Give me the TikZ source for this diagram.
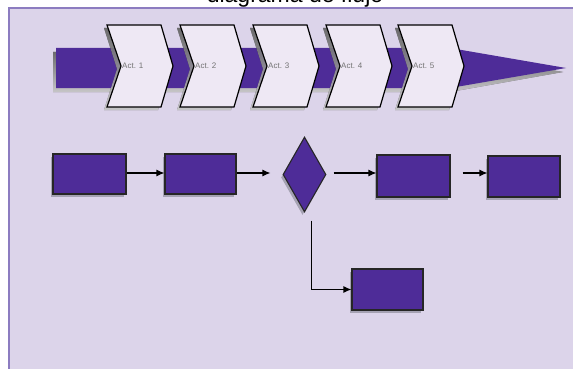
\documentclass[tikz,border=0pt]{standalone}
\usepackage{fontspec}
\setmainfont{Liberation Sans}
\usetikzlibrary{shapes.geometric,arrows.meta,shadows}
\definecolor{panel}{HTML}{DCD4EA}
\definecolor{panelline}{HTML}{8C7CC0}
\definecolor{deep}{HTML}{4E2C98}
\definecolor{chevfill}{HTML}{EEE8F4}
\definecolor{shade}{HTML}{8E8E9C}
\tikzset{
  boxnode/.style={draw=black!85, line width=1.1pt, fill=deep, inner sep=0pt,
    drop shadow={shadow xshift=-2pt, shadow yshift=-3pt, fill=shade, opacity=0.7}},
  decnode/.style={diamond, draw=black!85, line width=1.1pt, fill=deep, inner sep=0pt,
    minimum width=43pt, minimum height=75pt, aspect=0.57,
    drop shadow={shadow xshift=-2pt, shadow yshift=-3pt, fill=shade, opacity=0.7}},
  flow/.style={-{Latex[length=8pt,width=7pt]}, line width=1.2pt, black},
  chevshape/.style={draw=black, line width=1.2pt, fill=chevfill},
  chevlabel/.style={anchor=west, inner sep=0pt, font=\fontsize{8}{9}\selectfont, text=black!55},
}
\newcommand{\chevron}[3]{%
  \fill[shade, opacity=0.7] (#1-3,28) -- (#1+51,28) -- (#1+63,69) -- (#1+51,110) -- (#1-3,110) -- (#1+10,69) -- cycle;
  \path[chevshape] (#1,25) -- (#1+54,25) -- (#1+66,66) -- (#1+54,107) -- (#1,107) -- (#1+14,66) -- cycle;
  \node[chevlabel] (#3) at (#1+15,66) {#2};
}
\begin{document}
\begin{tikzpicture}[x=1pt,y=-1pt]
  \useasboundingbox (0,0) rectangle (573,369);
  \clip (0,0) rectangle (573,369);
  \fill[white] (0,0) rectangle (573,369);
  \node[anchor=base, inner sep=0pt, font=\fontsize{23}{23}\selectfont] (title) at (295,3) {diagrama de flujo};
  \fill[panel] (8,8) rectangle (573,369);
  \draw[panelline, line width=2pt] (9,369) -- (9,8.5) -- (573,8.5);
  % band with arrow tip
  \fill[shade, opacity=0.7] (53,52) -- (450,52) -- (563,72) -- (450,92) -- (53,92) -- cycle;
  \fill[deep] (56,48) -- (450,48) -- (566,68) -- (450,88) -- (56,88) -- cycle;
  % chevrons
  \chevron{107}{Act. 1}{a1}
  \chevron{180}{Act. 2}{a2}
  \chevron{253}{Act. 3}{a3}
  \chevron{326}{Act. 4}{a4}
  \chevron{398}{Act. 5}{a5}
  % flow row
  \node[boxnode, minimum width=73pt, minimum height=40pt] (b1) at (89.5,174) {};
  \node[boxnode, minimum width=71pt, minimum height=40pt] (b2) at (200.5,174) {};
  \node[decnode] (d) at (304.5,174.5) {};
  \node[boxnode, minimum width=73pt, minimum height=42pt] (b3) at (413.5,176) {};
  \node[boxnode, minimum width=72pt, minimum height=41pt] (b4) at (524,176.5) {};
  \node[boxnode, minimum width=71pt, minimum height=41pt] (b5) at (387.5,289.5) {};
  \draw[flow] (b1.east |- 0,173) -- (b2.west |- 0,173);
  \draw[flow, shorten >=12pt] (b2.east |- 0,173) -- (d.west |- 0,173);
  \draw[flow, shorten <=7pt] (d.east |- 0,173) -- (b3.west |- 0,173);
  \draw[flow, shorten <=12pt] (b3.east |- 0,173) -- (b4.west |- 0,173);
  \draw[flow] ([xshift=7pt,yshift=-8pt]d.south) |- (b5.west);
\end{tikzpicture}
\end{document}
